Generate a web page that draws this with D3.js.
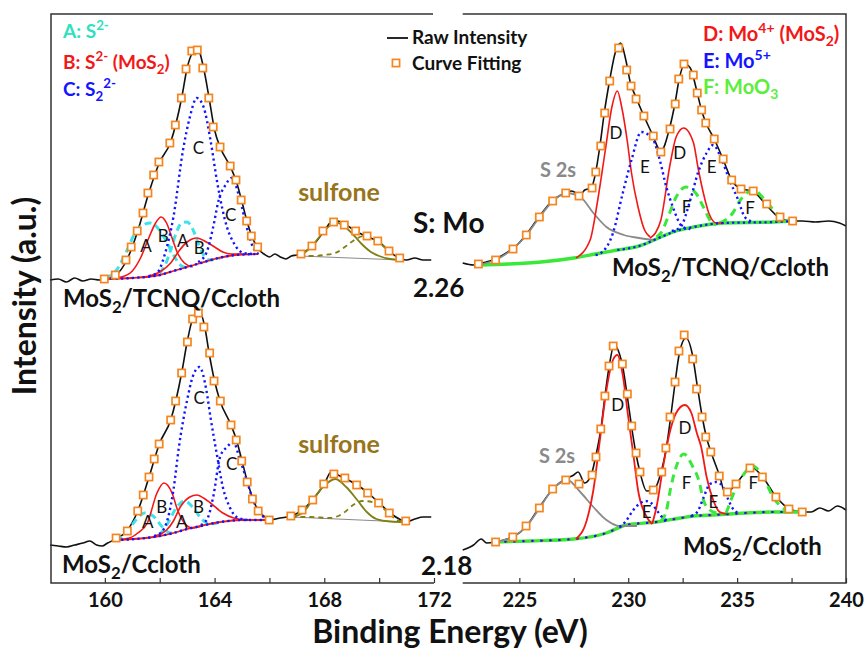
<!DOCTYPE html>
<html>
<head>
<meta charset="utf-8">
<script src="https://cdn.jsdelivr.net/npm/d3@7"></script>
<style>
  body { margin: 0; background: #fff; }
  text { font-family: Lato, "Open Sans", sans-serif; }
</style>
</head>
<body>
<div id="chart"></div>
<script>
// ---- S 2p region, MoS2/TCNQ/Ccloth (upper trace) ----
const sTcnqRaw = [[158.0,303],[158.3,304],[158.6,301],[158.9,305],[159.2,302],[159.5,304],[159.8,303],[160.0,304],[160.4,308],[160.8,323],[161.2,352],[161.6,390],[162.0,421],[162.4,441],[162.8,485],[163.0,515],[163.2,531],[163.35,536],[163.6,515],[163.8,485],[164.0,453],[164.2,436],[164.6,415],[164.8,401],[165.0,381],[165.2,360],[165.4,344],[165.6,334],[165.8,329],[166.0,326],[166.2,329],[166.4,326],[166.6,324],[166.8,327],[167.0,328],[167.2,330],[167.6,338],[168.0,352],[168.3,362],[168.5,362],[168.8,358],[169.2,351],[169.6,346],[170.0,341],[170.4,331],[170.8,324],[171.0,323],[171.3,325],[171.6,323],[171.9,323]];
const sTcnqFit = [[159.98,304],[160.38,308],[160.77,323],[160.96,336],[161.18,352],[161.39,370],[161.57,390],[161.78,408],[161.97,421],[162.37,440],[162.57,458],[162.79,485],[162.96,514],[163.17,532],[163.37,533],[163.57,515],[163.79,485],[163.95,456],[164.2,436],[164.57,417],[164.78,403],[164.97,383],[165.17,362],[165.34,347],[165.57,336],[167.15,329],[167.55,337],[167.95,352],[168.34,361],[168.73,358],[169.14,352],[169.56,347],[169.95,342],[170.36,332],[170.75,325]];
const sTcnqBase = [[160.0,304],[161.0,305],[162.0,308],[162.5,312],[163.0,316],[163.5,320],[164.0,324],[164.5,327],[165.0,328.5],[165.6,329]];
const sTcnqA1 = [[160.0,305],[160.4,312],[160.8,332],[161.1,350],[161.4,358],[161.65,360],[161.9,356],[162.2,344],[162.5,328],[162.8,317],[163.1,315]];
const sTcnqA2 = [[162.0,310],[162.2,318],[162.4,333],[162.6,350],[162.8,360],[163.0,361],[163.2,354],[163.4,340],[163.6,328],[163.8,323],[164.2,325]];
const sTcnqB1 = [[160.0,304],[160.6,306],[161.0,312],[161.3,325],[161.6,345],[161.85,360],[162.05,366],[162.25,360],[162.45,345],[162.65,330],[162.9,320],[163.2,316]];
const sTcnqB2 = [[161.6,307],[162.0,311],[162.4,320],[162.7,332],[163.0,341],[163.35,345],[163.7,341],[164.0,336],[164.3,331],[164.6,329],[165.0,329]];
const sTcnqC1 = [[161.6,307],[161.9,310],[162.2,330],[162.5,366],[162.85,433],[163.1,466],[163.35,485],[163.6,476],[163.85,443],[164.1,400],[164.45,356],[164.7,340],[165.05,330],[165.4,329]];
const sTcnqC2 = [[163.4,321],[163.7,330],[163.95,356],[164.15,383],[164.4,398],[164.62,405],[164.93,383],[165.17,356],[165.4,336],[165.6,329]];
const sTcnqSulBase = [[167.1,327],[170.8,323]];
const sTcnqSul1 = [[167.1,327],[167.4,333],[167.7,342],[168.0,352],[168.3,359],[168.5,360],[168.8,355],[169.1,347],[169.4,338],[169.7,331],[170.0,327],[170.4,324],[170.8,323]];
const sTcnqSul2 = [[167.1,327],[167.6,327],[168.0,328],[168.4,330],[168.8,337],[169.1,343],[169.45,347],[169.8,344],[170.1,338],[170.4,331],[170.8,324]];

// ---- S 2p region, MoS2/Ccloth (lower trace) ----
const sCcRaw = [[158.0,38],[158.3,37],[158.6,36],[158.9,38],[159.2,40],[159.45,42],[159.7,38],[159.9,37],[160.1,40],[160.4,44],[160.8,52],[161.2,72],[161.6,105],[162.0,140],[162.4,163],[162.8,210],[163.0,241],[163.2,264],[163.45,272],[163.65,255],[163.8,230],[164.0,202],[164.2,182],[164.6,158],[164.8,143],[165.0,122],[165.2,101],[165.4,84],[165.6,72],[165.8,67],[166.0,63],[166.4,65],[166.8,67],[167.2,73],[167.6,84],[168.0,99],[168.25,111],[168.5,108],[168.8,104],[169.2,98],[169.6,90],[170.0,80],[170.4,70],[170.8,63],[171.0,61],[171.3,64],[171.6,66],[171.9,66]];
const sCcFit = [[160.41,45],[160.82,52],[161.2,72],[161.4,88],[161.61,106],[161.8,124],[161.98,139],[162.4,163],[162.58,182],[162.8,210],[163.01,241],[163.2,264],[163.41,270],[163.61,256],[163.82,230],[163.98,202],[164.21,182],[164.6,158],[164.79,143],[164.99,122],[165.19,101],[165.38,84],[165.59,72],[165.99,63],[166.78,67],[167.19,73],[167.58,83],[167.98,99],[168.35,109],[168.75,105],[169.18,98],[169.58,90],[169.98,80],[170.37,70],[170.97,62]];
const sCcBase = [[160.4,43],[161.5,45],[162.0,47],[162.5,50],[163.0,54],[163.5,57],[164.0,60],[164.5,62],[165.0,63],[166.0,63]];
const sCcA1 = [[160.4,43],[160.8,50],[161.1,62],[161.45,70],[161.8,66],[162.1,56],[162.4,50],[162.6,51]];
const sCcA2 = [[162.0,48],[162.3,60],[162.6,75],[162.9,82],[163.2,76],[163.5,65],[163.8,59],[164.1,60]];
const sCcB1 = [[160.4,43],[160.9,45],[161.2,50],[161.55,60],[161.9,90],[162.15,100],[162.45,90],[162.65,73],[162.9,60],[163.2,55],[163.5,57]];
const sCcB2 = [[161.8,47],[162.25,53],[162.5,62],[162.75,76],[163.1,86],[163.35,88],[163.6,85],[163.85,80],[164.3,70],[164.7,65],[165.2,63]];
const sCcC1 = [[161.8,47],[162.1,52],[162.3,65],[162.5,93],[162.7,136],[163.0,183],[163.2,206],[163.45,216],[163.7,193],[163.85,166],[164.1,126],[164.3,96],[164.55,76],[164.8,66],[165.2,63]];
const sCcC2 = [[163.5,58],[163.75,65],[163.95,86],[164.2,126],[164.45,136],[164.68,141],[164.93,123],[165.17,103],[165.4,83],[165.65,70],[165.9,64]];
const sCcSulBase = [[166.8,66],[170.95,61]];
const sCcSul1 = [[166.8,66],[167.2,70],[167.5,80],[167.95,96],[168.4,104],[168.8,96],[169.2,83],[169.55,71],[169.9,64],[170.4,61.5],[170.95,61]];
const sCcSul2 = [[166.8,66],[167.5,66],[168.2,65],[168.7,70],[169.05,78],[169.4,82],[169.9,80],[170.3,71],[170.65,63],[170.95,61]];

// ---- Mo 3d region, MoS2/TCNQ/Ccloth (upper trace) ----
const moTcnqRaw = [[222.4,320],[222.9,318],[223.3,320],[223.9,324],[224.4,330],[224.9,338],[225.3,348],[225.9,366],[226.5,382],[227.0,389],[227.4,392],[227.8,388],[228.0,393],[228.3,395],[228.5,410],[228.7,437],[228.9,470],[229.15,503],[229.4,530],[229.65,540],[229.9,522],[230.1,500],[230.35,486],[230.7,468],[231.1,449],[231.5,432],[231.9,455],[232.15,480],[232.35,505],[232.6,519],[232.85,515],[233.15,492],[233.35,474],[233.55,461],[233.95,444],[234.35,424],[234.75,403],[235.2,394],[235.7,392],[236.3,379],[236.9,366],[237.5,362],[238.0,362],[238.6,361],[239.2,362],[239.7,360],[240.0,357]];
const moTcnqFit = [[223.12,319],[223.91,323],[224.71,334],[225.32,348],[225.92,366],[226.53,382],[227.13,390],[227.74,387],[228.34,395],[228.51,411],[228.74,437],[228.92,470],[229.15,502],[229.56,535],[229.93,513],[230.13,497],[230.36,484],[230.72,467],[231.15,447],[231.5,431],[231.92,454],[232.16,479],[232.32,504],[232.56,519],[232.99,508],[233.17,490],[233.37,473],[233.56,460],[233.95,444],[234.36,424],[234.75,403],[235.18,394],[235.74,392],[236.36,379],[236.97,366],[237.55,362]];
const moTcnqBase = [[223.1,318],[224.5,319],[226.0,321],[227.5,325],[228.5,329],[229.5,333],[230.5,337],[231.5,346],[232.2,352],[233.0,356],[234.4,360],[236.7,361],[237.6,362]];
const moTcnqS2s = [[223.1,318],[223.9,323],[224.7,334],[225.3,347],[225.9,365],[226.5,381],[227.15,390],[227.8,386],[228.4,370],[229.0,356],[229.8,348],[230.5,345],[231.2,343]];
const moTcnqD1 = [[227.6,325],[228.25,343],[228.6,383],[228.95,433],[229.25,476],[229.5,492],[229.7,476],[229.95,443],[230.15,410],[230.45,376],[230.75,353],[231.0,346]];
const moTcnqD2 = [[231.0,345],[231.25,350],[231.5,363],[231.9,416],[232.2,446],[232.55,455],[233.0,440],[233.2,416],[233.45,390],[233.7,370],[234.05,360],[234.4,360]];
const moTcnqE1 = [[228.5,328],[228.75,330],[229.3,350],[229.75,390],[230.15,423],[230.6,451],[231.15,443],[231.45,423],[231.75,396],[232.05,376],[232.5,356],[232.85,354]];
const moTcnqE2 = [[232.0,352],[232.4,356],[232.85,383],[233.2,410],[233.6,430],[233.9,438],[234.3,423],[234.65,403],[235.05,383],[235.35,366],[235.75,361]];
const moTcnqF1 = [[231.3,346],[231.5,350],[231.9,370],[232.2,386],[232.65,396],[233.1,390],[233.45,376],[233.75,363],[234.05,358]];
const moTcnqF2 = [[234.2,360],[234.8,370],[235.15,383],[235.75,393],[236.35,381],[236.8,370],[237.3,363],[237.6,362]];

// ---- Mo 3d region, MoS2/Ccloth (lower trace) ----
const moCcRaw = [[222.4,33],[222.9,38],[223.25,44],[223.5,40],[223.9,41],[224.3,43],[224.7,46],[225.3,56],[225.9,75],[226.5,93],[227.1,104],[227.5,108],[227.7,111],[228.0,100],[228.3,108],[228.5,126],[228.75,155],[228.95,190],[229.15,220],[229.35,238],[229.55,232],[229.75,216],[229.95,188],[230.15,157],[230.35,130],[230.55,110],[230.85,92],[231.15,93],[231.5,110],[231.75,135],[231.95,166],[232.15,200],[232.35,230],[232.65,245],[232.95,228],[233.15,200],[233.4,166],[233.6,145],[233.8,131],[234.2,107],[234.45,90],[234.95,99],[235.35,110],[235.65,116],[236.1,108],[236.8,86],[237.4,74],[238.0,71],[238.4,71],[238.8,75],[239.2,72],[239.6,77],[240.0,73]];
const moCcFit = [[223.91,41],[224.70,46],[225.31,57],[225.92,75],[226.53,94],[227.13,103],[227.74,99],[228.34,108],[228.52,126],[228.74,154],[228.93,187],[229.12,217],[229.31,237],[229.73,219],[229.96,189],[230.16,157],[230.36,130],[230.54,111],[231.15,93],[231.54,111],[231.73,135],[231.92,166],[232.15,201],[232.33,232],[232.57,248],[232.96,224],[233.14,194],[233.39,166],[233.56,146],[233.79,131],[234.18,107],[234.55,91],[234.95,99],[235.59,115],[236.16,106],[236.78,86],[237.38,74],[237.99,71]];
const moCcBase = [[223.9,41],[225.5,42],[227.5,44],[229.0,50],[229.9,58],[231.3,61],[232.4,65],[233.0,67],[233.9,68],[236.7,71],[238.0,71]];
const moCcS2s = [[223.9,41],[224.7,46],[225.3,56],[225.9,74],[226.5,93],[227.2,103],[227.8,91],[228.4,76],[229.0,63],[229.6,57],[230.4,57]];
const moCcD1 = [[227.6,44],[228.1,63],[228.4,93],[228.7,143],[229.0,193],[229.3,223],[229.5,228],[229.75,208],[230.0,166],[230.25,126],[230.45,93],[230.85,66],[231.1,59]];
const moCcD2 = [[231.1,59],[231.3,76],[231.6,116],[231.9,150],[232.2,170],[232.6,178],[232.9,170],[233.15,150],[233.35,136],[233.6,106],[233.9,83],[234.2,71],[234.5,69]];
const moCcE1 = [[229.6,56],[229.9,62],[230.2,72],[230.5,79],[230.8,82],[231.05,80],[231.3,73],[231.6,65],[231.9,62]];
const moCcE2 = [[232.9,67],[233.2,72],[233.45,85],[233.75,99],[234.05,101],[234.35,96],[234.6,83],[234.85,73],[235.1,70]];
const moCcF1 = [[231.5,62],[231.75,72],[231.95,95],[232.2,116],[232.55,129],[232.95,117],[233.25,102],[233.45,83],[233.75,73],[234.05,70]];
const moCcF2 = [[234.5,70],[234.95,95],[235.35,110],[235.7,117],[236.2,106],[236.65,86],[237.1,75],[237.6,71]];

// ---- ticks ----
const sTicks = [160, 162, 164, 166, 168, 170, 172];
const sTickLabels = [160, 164, 168, 172];
const moTicks = [225, 227.5, 230, 232.5, 235, 237.5, 240];
const moTickLabels = [225, 230, 235, 240];

// ---- peak letters [text, eV, intensity] ----
const sTcnqLetters = [["C",163.41,435],["C",164.59,368],["A",161.5,337],["B",162.13,347],["A",162.84,342],["B",163.44,335]];
const sCcLetters = [["C",163.44,185],["C",164.62,119],["A",161.56,61],["B",162.07,76],["A",162.8,61],["B",163.41,76]];
const moTcnqLetters = [["D",229.44,450],["E",230.77,416],["D",232.36,430],["E",233.83,416],["F",232.68,376],["F",235.59,375]];
const moCcLetters = [["D",229.52,178],["D",232.61,155],["F",232.68,100],["F",235.74,100],["E",230.85,71],["E",233.91,81]];

const W = 865, H = 656;
const svg = d3.select("#chart").append("svg").attr("width", W).attr("height", H);

const xS = d3.scaleLinear().domain([158, 172]).range([50, 434]);
const xMo = d3.scaleLinear().domain([222, 240]).range([454, 846]);
const y = d3.scaleLinear().domain([0, 570]).range([583, 13]);

const COL = {
  raw: "#111", fit: "#f5861f", cyan: "#3ee3ea", red: "#f21818", blue: "#1414ff",
  green: "#3ae83a", olive: "#7f7f14", gray: "#8a8a8a", sulf: "#98741a", axis: "#333"
};

function curve(xs, data, stroke, width, dash) {
  svg.append("path").datum(data)
    .attr("d", d3.line().x(d => xs(d[0])).y(d => y(d[1])).curve(d3.curveMonotoneX))
    .attr("fill", "none").attr("stroke", stroke).attr("stroke-width", width)
    .attr("stroke-dasharray", dash || null).attr("stroke-linejoin", "round");
}
function squares(xs, data) {
  svg.append("g").selectAll("rect").data(data).join("rect")
    .attr("x", d => xs(d[0]) - 3.6).attr("y", d => y(d[1]) - 3.6)
    .attr("width", 7.2).attr("height", 7.2)
    .attr("fill", "#fff").attr("stroke", COL.fit).attr("stroke-width", 1.7);
}
function letters(xs, data) {
  svg.append("g").selectAll("text").data(data).join("text")
    .attr("x", d => xs(d[1])).attr("y", d => y(d[2]))
    .attr("dy", "0.36em").attr("text-anchor", "middle")
    .attr("font-size", 17).attr("fill", "#111").text(d => d[0]);
}
// rich text: segs = [[text, "sup"|"sub"|undefined], ...]
function rich(x, yy, segs, size, color, weight, anchor) {
  const t = svg.append("text").attr("x", x).attr("y", yy)
    .attr("font-size", size).attr("font-weight", weight || 700)
    .attr("fill", color).attr("text-anchor", anchor || "start");
  let cur = 0;
  segs.forEach(([s, k]) => {
    const shift = k === "sup" ? -0.4 * size : k === "sub" ? 0.25 * size : 0;
    t.append("tspan").attr("dy", shift - cur)
      .attr("font-size", k ? size * 0.7 : size).text(s);
    cur = shift;
  });
  return t;
}

const DOT = "2.2,3.2", DASH_A = "7,4.5", DASH_F = "8,5.5", DASH_OL = "5,4";

// ---- S panel, upper ----
curve(xS, sTcnqRaw, COL.raw, 1.6);
curve(xS, sTcnqSulBase, COL.gray, 1);
curve(xS, sTcnqSul2, COL.olive, 1.8, DASH_OL);
curve(xS, sTcnqSul1, COL.olive, 1.8);
curve(xS, sTcnqA1, COL.cyan, 3, DASH_A);
curve(xS, sTcnqA2, COL.cyan, 3, DASH_A);
curve(xS, sTcnqBase, COL.red, 1.8);
curve(xS, sTcnqB1, COL.red, 1.6);
curve(xS, sTcnqB2, COL.red, 1.6);
curve(xS, sTcnqBase, COL.blue, 2.4, DOT);
curve(xS, sTcnqC1, COL.blue, 2.4, DOT);
curve(xS, sTcnqC2, COL.blue, 2.4, DOT);
squares(xS, sTcnqFit);
letters(xS, sTcnqLetters);

// ---- S panel, lower ----
curve(xS, sCcRaw, COL.raw, 1.6);
curve(xS, sCcSulBase, COL.gray, 1);
curve(xS, sCcSul2, COL.olive, 1.8, DASH_OL);
curve(xS, sCcSul1, COL.olive, 1.8);
curve(xS, sCcA1, COL.cyan, 3, DASH_A);
curve(xS, sCcA2, COL.cyan, 3, DASH_A);
curve(xS, sCcBase, COL.red, 1.8);
curve(xS, sCcB1, COL.red, 1.6);
curve(xS, sCcB2, COL.red, 1.6);
curve(xS, sCcBase, COL.blue, 2.4, DOT);
curve(xS, sCcC1, COL.blue, 2.4, DOT);
curve(xS, sCcC2, COL.blue, 2.4, DOT);
squares(xS, sCcFit);
letters(xS, sCcLetters);

// ---- Mo panel, upper ----
curve(xMo, moTcnqRaw, COL.raw, 1.6);
curve(xMo, moTcnqBase, COL.green, 3.4);
curve(xMo, moTcnqS2s, COL.gray, 1.8);
curve(xMo, moTcnqF1, COL.green, 3, DASH_F);
curve(xMo, moTcnqF2, COL.green, 3, DASH_F);
curve(xMo, moTcnqD1, COL.red, 1.6);
curve(xMo, moTcnqD2, COL.red, 1.6);
curve(xMo, moTcnqBase.filter(d => d[0] >= 229.5), COL.blue, 2.2, DOT);
curve(xMo, moTcnqE1, COL.blue, 2.4, DOT);
curve(xMo, moTcnqE2, COL.blue, 2.4, DOT);
squares(xMo, moTcnqFit);
letters(xMo, moTcnqLetters);

// ---- Mo panel, lower ----
curve(xMo, moCcRaw, COL.raw, 1.6);
curve(xMo, moCcBase, COL.green, 3.4);
curve(xMo, moCcBase, COL.red, 1.2, "3,6");
curve(xMo, moCcBase, COL.blue, 2.2, "2,7");
curve(xMo, moCcS2s, COL.gray, 1.8);
curve(xMo, moCcF1, COL.green, 3, DASH_F);
curve(xMo, moCcF2, COL.green, 3, DASH_F);
curve(xMo, moCcD1, COL.red, 1.8);
curve(xMo, moCcD2, COL.red, 1.8);
curve(xMo, moCcE1, COL.blue, 2.4, DOT);
curve(xMo, moCcE2, COL.blue, 2.4, DOT);
squares(xMo, moCcFit);
letters(xMo, moCcLetters);

// ---- axes ----
function bottomAxis(xs, ticks, labels) {
  const g = svg.append("g").attr("transform", `translate(0,${y(0)})`)
    .call(d3.axisBottom(xs).tickValues(ticks).tickSizeInner(-5).tickSizeOuter(0)
      .tickPadding(10).tickFormat(d => labels.includes(d) ? d : ""));
  g.select(".domain").remove();
  g.selectAll(".tick line").attr("stroke", COL.axis).attr("stroke-width", 1.2);
  g.selectAll(".tick text").attr("font-size", 20).attr("font-weight", 700)
    .attr("fill", "#111").attr("font-family", "Lato, 'Open Sans', sans-serif");
}
bottomAxis(xS, sTicks, sTickLabels);
bottomAxis(xMo, moTicks, moTickLabels);

const frame = svg.append("g").attr("fill", "none").attr("stroke", COL.axis).attr("stroke-width", 1.5);
frame.append("path").attr("d", `M${xS(172) - 1},${y(569)} H${xS(158) + 1} V${y(0)} H${xS(172)}`);
frame.append("path").attr("d", `M${xMo(222.4)},${y(569)} H${xMo(240)} V${y(0)} H${xMo(222.4)}`);

// ---- axis titles ----
svg.append("text").attr("x", 450).attr("y", 643).attr("text-anchor", "middle")
  .attr("font-size", 32).attr("font-weight", 700).attr("fill", "#111").text("Binding Energy (eV)");
svg.append("text").attr("transform", "translate(36,296) rotate(-90)").attr("text-anchor", "middle")
  .attr("font-size", 32).attr("font-weight", 700).attr("fill", "#111").text("Intensity (a.u.)");

// ---- legends ----
rich(63, 38, [["A: S"], ["2-", "sup"]], 19, "#30e0c0");
rich(63, 69, [["B: S"], ["2-", "sup"], [" (MoS"], ["2", "sub"], [")"]], 19, "#f21818");
rich(63, 96, [["C: S"], ["2", "sub"], ["2-", "sup"]], 19, "#1414ff");
rich(703, 41, [["D: Mo"], ["4+", "sup"], [" (MoS"], ["2", "sub"], [")"]], 20, "#f21818");
rich(703, 68, [["E: Mo"], ["5+", "sup"]], 20, "#1414ff");
rich(703, 94, [["F: MoO"], ["3", "sub"]], 20, "#5cee3a");

svg.append("line").attr("x1", 387).attr("x2", 408).attr("y1", 38).attr("y2", 38)
  .attr("stroke", COL.raw).attr("stroke-width", 1.8);
svg.append("rect").attr("x", 392.4).attr("y", 59.4).attr("width", 7.2).attr("height", 7.2)
  .attr("fill", "#fff").attr("stroke", COL.fit).attr("stroke-width", 1.7);
rich(412, 44, [["Raw Intensity"]], 19, "#111");
rich(412, 70, [["Curve Fitting"]], 19, "#111");

// ---- annotations ----
rich(339, 201, [["sulfone"]], 25, COL.sulf, 700, "middle");
rich(339, 453, [["sulfone"]], 25, COL.sulf, 700, "middle");
rich(558, 177, [["S 2s"]], 20, COL.gray, 700, "middle");
rich(557, 463, [["S 2s"]], 20, COL.gray, 700, "middle");
rich(413, 233, [["S: Mo"]], 28, "#111");
rich(413, 297, [["2.26"]], 26, "#111");
rich(421, 575, [["2.18"]], 26, "#111");
rich(63, 307, [["MoS"], ["2", "sub"], ["/TCNQ/Ccloth"]], 24, "#111");
rich(62, 573, [["MoS"], ["2", "sub"], ["/Ccloth"]], 24, "#111");
rich(612, 276, [["MoS"], ["2", "sub"], ["/TCNQ/Ccloth"]], 24, "#111");
rich(683, 555, [["MoS"], ["2", "sub"], ["/Ccloth"]], 24, "#111");
</script>
</body>
</html>
